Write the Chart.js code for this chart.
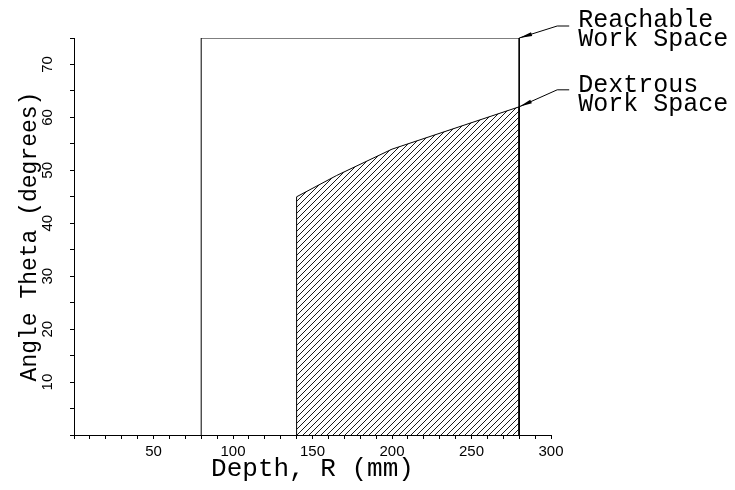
<!DOCTYPE html>
<html>
<head>
<meta charset="utf-8">
<script src="https://cdn.jsdelivr.net/npm/chart.js@4"></script>
<style>
  html, body { margin: 0; padding: 0; background: #fff; }
  #wrap { width: 735px; height: 490px; }
</style>
</head>
<body>
<div id="wrap"><canvas id="workspace"></canvas></div>
<script>
// Reachable work space outline (depth R in mm, angle theta in degrees)
const reachR = [80, 80, 280, 280];
const reachTheta = [0, 75, 75, 0];

// Dextrous work space (hatched region)
const dexR = [140, 140, 165, 200, 280, 280];
const dexTheta = [0, 45, 49, 54, 62, 0];

// Axis ranges and labelled ticks
const rMax = 300, rStep = 10, rLabelEvery = 50;
const thetaMax = 75, thetaStep = 5, thetaLabelEvery = 10;

const callouts = [
  { r: 280, theta: 75, lines: ["Reachable", "Work Space"] },
  { r: 280, theta: 62, lines: ["Dextrous", "Work Space"] }
];

const monoFont = "'Liberation Mono', 'DejaVu Sans Mono', monospace";
const sansFont = "'Liberation Sans', Arial, sans-serif";

// diagonal hatch pattern
function makeHatch() {
  const size = 6;
  const c = document.createElement("canvas");
  c.width = size; c.height = size;
  const g = c.getContext("2d");
  g.strokeStyle = "#000";
  g.lineWidth = 0.9;
  g.beginPath();
  g.moveTo(0, size); g.lineTo(size, 0);
  g.moveTo(-1, 1); g.lineTo(1, -1);
  g.moveTo(size - 1, size + 1); g.lineTo(size + 1, size - 1);
  g.stroke();
  return g.createPattern(c, "repeat");
}

function pairs(xs, ys) {
  return xs.map((x, i) => ({ x: x, y: ys[i] }));
}

// arrows + labels pointing at the two work space corners
const calloutPlugin = {
  id: "callouts",
  afterDatasetsDraw(chart) {
    const ctx = chart.ctx;
    const xs = chart.scales.x, ys = chart.scales.y;
    ctx.save();
    ctx.strokeStyle = "#000";
    ctx.fillStyle = "#000";
    ctx.lineWidth = 1;
    callouts.forEach(function(c, idx) {
      const px = xs.getPixelForValue(c.r);
      const py = ys.getPixelForValue(c.theta);
      const rise = idx === 0 ? 12 : 17;
      const ex = px + 38, ey = py - rise;
      ctx.beginPath();
      ctx.moveTo(px, py);
      ctx.lineTo(ex, ey);
      ctx.lineTo(ex + 12, ey);
      ctx.stroke();
      // arrow head
      const ang = Math.atan2(ey - py, ex - px);
      const len = 13, half = 2;
      const bx = px + Math.cos(ang) * len, by = py + Math.sin(ang) * len;
      ctx.beginPath();
      ctx.moveTo(px, py);
      ctx.lineTo(bx - Math.sin(ang) * half, by + Math.cos(ang) * half);
      ctx.lineTo(bx + Math.sin(ang) * half, by - Math.cos(ang) * half);
      ctx.closePath();
      ctx.fill();
      // text
      ctx.font = "25px " + monoFont;
      ctx.textAlign = "left";
      ctx.textBaseline = "alphabetic";
      const tx = ex + 21;
      const ty = idx === 0 ? ey + 1 : ey + 2;
      c.lines.forEach(function(line, i) {
        ctx.fillText(line, tx, ty + i * 19);
      });
    });
    ctx.restore();
  }
};

const ctx = document.getElementById("workspace").getContext("2d");
const chart = new Chart(ctx, {
  type: "line",
  data: {
    datasets: [
      {
        label: "Reachable Work Space",
        data: pairs(reachR, reachTheta),
        borderColor: "#000",
        borderWidth: 1,
        pointRadius: 0,
        tension: 0,
        fill: false
      },
      {
        label: "Dextrous Work Space",
        data: pairs(dexR, dexTheta),
        borderColor: "#000",
        borderWidth: 1,
        backgroundColor: makeHatch(),
        pointRadius: 0,
        tension: 0,
        fill: "origin"
      }
    ]
  },
  options: {
    responsive: true,
    maintainAspectRatio: false,
    animation: false,
    events: [],
    layout: { padding: { top: 38, right: 184, left: 0, bottom: 0 } },
    plugins: {
      legend: { display: false },
      tooltip: { enabled: false }
    },
    scales: {
      x: {
        type: "linear",
        min: 0,
        max: rMax,
        afterFit: function(s) { s.height = 55; },
        border: { display: true, color: "#000", width: 1 },
        grid: { drawOnChartArea: false, drawTicks: true, tickLength: 4, color: "#000" },
        ticks: {
          stepSize: rStep,
          autoSkip: false,
          maxRotation: 0,
          padding: 4,
          color: "#000",
          font: { family: sansFont, size: 15 },
          callback: function(v) { return (v !== 0 && v % rLabelEvery === 0) ? String(v) : ""; }
        },
        title: {
          display: true,
          text: "Depth, R (mm)",
          color: "#000",
          font: { family: monoFont, size: 26, lineHeight: 1.1 },
          padding: { top: 0, bottom: 7 }
        }
      },
      y: {
        type: "linear",
        min: 0,
        max: thetaMax,
        afterFit: function(s) { s.width = 74; },
        border: { display: true, color: "#000", width: 1 },
        grid: { drawOnChartArea: false, drawTicks: true, tickLength: 4, color: "#000" },
        ticks: {
          stepSize: thetaStep,
          autoSkip: false,
          minRotation: 90,
          maxRotation: 90,
          crossAlign: "center",
          padding: 14,
          color: "#000",
          font: { family: sansFont, size: 15 },
          callback: function(v) { return (v !== 0 && v % thetaLabelEvery === 0) ? String(v) : ""; }
        },
        title: {
          display: true,
          text: "Angle Theta (degrees)",
          color: "#000",
          font: { family: monoFont, size: 23, lineHeight: 1.2 },
          padding: { top: 16, bottom: 0 }
        }
      }
    }
  },
  plugins: [calloutPlugin]
});
</script>
</body>
</html>
